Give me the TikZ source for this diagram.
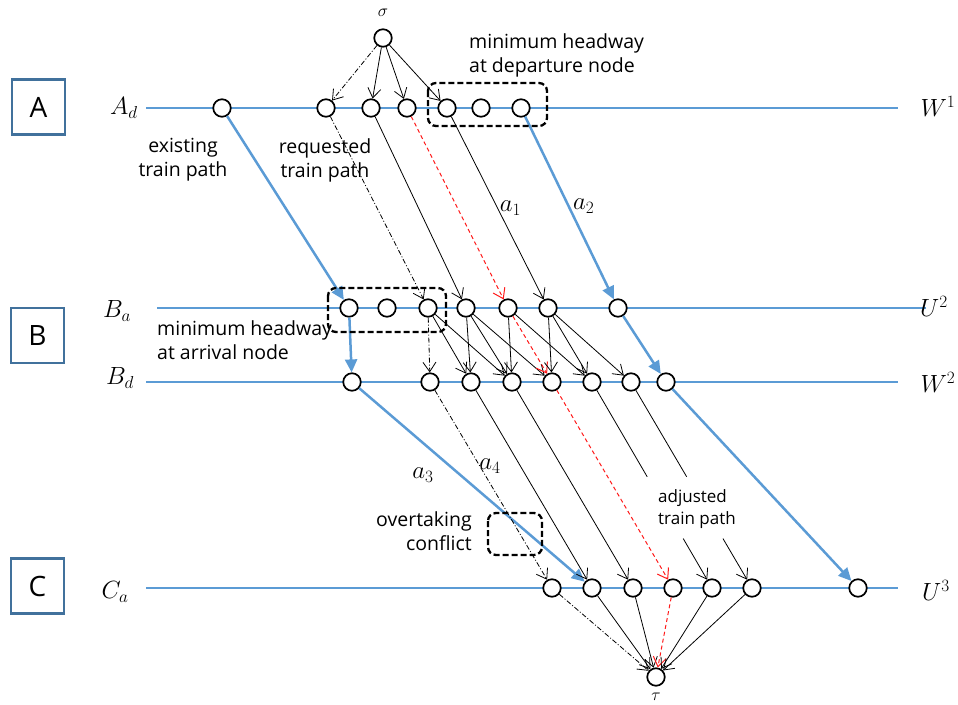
\documentclass[tikz,border=0pt]{standalone}
\usepackage{fontspec}
\newfontfamily\labfont{Open Sans}
\usetikzlibrary{arrows.meta,calc}
\definecolor{track}{HTML}{5B9BD5}
\definecolor{framecol}{HTML}{41719C}
\definecolor{pathred}{HTML}{FF1A1A}
\begin{document}
\begin{tikzpicture}[x=1pt,y=-1pt,
  ev/.style={circle,draw,line width=1.7pt,fill=white,minimum size=17.5pt,inner sep=0pt},
  trackline/.style={track,line width=1.2pt},
  arc/.style={line width=0.8pt,-{Straight Barb[length=9.5pt,width=13pt]}},
  reqarc/.style={arc,dash pattern=on 5pt off 2pt on 1pt off 2pt},
  adjarc/.style={line width=1pt,pathred,dash pattern=on 4pt off 3pt,-{Straight Barb[length=9.5pt,width=13pt]}},
  existarc/.style={track,line width=2.5pt,-{Triangle[length=13pt,width=12pt]}},
  hwbox/.style={line width=2.3pt,dash pattern=on 6pt off 3pt,rounded corners=8pt},
  stationbox/.style={draw=framecol,line width=2.2pt,minimum width=53pt,minimum height=55pt,
    font=\labfont\fontsize{28}{32}\selectfont},
  txt/.style={font=\labfont\fontsize{19.5}{24}\selectfont,inner sep=0pt},
  mlab/.style={font=\fontsize{26}{30}\selectfont,inner sep=0pt,text=black}
]
\useasboundingbox (0,0) rectangle (958,704);

% stations
\node[stationbox] (stA) at (38.5,107) {A};
\node[stationbox] (stB) at (37.5,335.5) {B};
\node[stationbox] (stC) at (37.5,586) {C};

% event lines
\draw[trackline] (146,108) -- (898,108);
\draw[trackline] (157,308) -- (926,308);
\draw[trackline] (146,382) -- (898,382);
\draw[trackline] (146,588) -- (898,588);

% line labels
\node[mlab] (lAd) at (124,108) {$A_d$};
\node[mlab] (lBa) at (117,311) {$B_a$};
\node[mlab] (lBd) at (120,378) {$B_d$};
\node[mlab] (lCa) at (115,592) {$C_a$};
\node[mlab] (lW1) at (938,106) {$W^1$};
\node[mlab] (lU2) at (934,306) {$U^2$};
\node[mlab] (lW2) at (938,382) {$W^2$};
\node[mlab] (lU3) at (936,590) {$U^3$};

% source and sink
\node[ev] (sig) at (383,38) {};
\node[font=\fontsize{17}{20}\selectfont] (lsig) at (383,13) {$\sigma$};
\node[ev] (tau) at (656,677) {};
\node[font=\fontsize{17}{20}\selectfont] (ltau) at (656,697) {$\tau$};

% departure events at A
\foreach \n/\x in {a0/222,a1/326,a2/371,a3/407,a4/447,a5/481,a6/521}
  \node[ev] (\n) at (\x,108) {};
% arrival events at B
\foreach \n/\x in {b0/349,b1/387,b2/428,b3/466,b4/508,b5/548,b6/618}
  \node[ev] (\n) at (\x,308) {};
% departure events at B
\foreach \n/\x in {d0/352,d1/430,d2/471,d3/512,d4/552,d5/592,d6/631,d7/666}
  \node[ev] (\n) at (\x,382) {};
% arrival events at C
\foreach \n/\x in {c0/552,c1/592,c2/633,c3/673,c4/712,c5/752,c6/858}
  \node[ev] (\n) at (\x,588) {};

% arcs leaving the source
\draw[reqarc] (sig) -- (a1);
\draw[arc] (sig) -- (a2);
\draw[arc] (sig) -- (a3);
\draw[arc] (sig) -- (a4);

% running arcs A -> B
\draw[existarc] (a0) -- (b0);
\draw[reqarc] (a1) -- (b2);
\draw[arc] (a2) -- (b3);
\draw[adjarc] (a3) -- (b4);
\draw[arc] (a4) -- node[mlab,pos=0.5,xshift=13pt] (la1) {$a_1$} (b5);
\draw[existarc] (a6) -- node[mlab,pos=0.49,xshift=15pt] (la2) {$a_2$} (b6);

% dwell arcs at B
\draw[existarc] (b0) -- (d0);
\draw[reqarc] (b2) -- (d1);
\draw[arc] (b2) -- (d2);
\draw[arc] (b2) -- (d3);
\draw[arc] (b3) -- (d2);
\draw[arc] (b3) -- (d3);
\draw[arc] (b3) -- (d4);
\draw[arc] (b4) -- (d3);
\draw[adjarc] (b4) -- (d4);
\draw[arc] (b4) -- (d5);
\draw[arc] (b5) -- (d4);
\draw[arc] (b5) -- (d5);
\draw[arc] (b5) -- (d6);
\draw[existarc] (b6) -- (d7);

% running arcs B -> C
\draw[existarc] (d0) -- (c1);
\draw[reqarc] (d1) -- (c0);
\draw[arc] (d2) -- (c1);
\draw[arc] (d3) -- (c2);
\draw[adjarc] (d4) -- (c3);
\coordinate (g1s) at ($(d5)!0.46!(c4)$);
\coordinate (g1e) at ($(d5)!0.76!(c4)$);
\coordinate (g2s) at ($(d6)!0.46!(c5)$);
\coordinate (g2e) at ($(d6)!0.76!(c5)$);
\draw[line width=0.8pt] (d5) -- (g1s);
\draw[arc] (g1e) -- (c4);
\draw[line width=0.8pt] (d6) -- (g2s);
\draw[arc] (g2e) -- (c5);
\draw[existarc] (d7) -- (c6);

% arcs into the sink
\draw[reqarc] (c0) -- (tau);
\draw[arc] (c1) -- (tau);
\draw[arc] (c2) -- (tau);
\draw[adjarc] (c3) -- (tau);
\draw[arc] (c4) -- (tau);
\draw[arc] (c5) -- (tau);

% labels a3, a4
\node[mlab] (la3) at (423,475) {$a_3$};
\node[mlab] (la4) at (490,466) {$a_4$};

% headway and conflict boxes
\draw[hwbox] (428,83) rectangle (547,126);
\draw[hwbox] (328,288) rectangle (446,332);
\draw[hwbox] (488,513) rectangle (542,555);

% text
\node[txt,align=center] (texist) at (183,160) {existing\\train path};
\node[txt,align=center] (treq) at (325,160) {requested\\train path};
\node[txt,align=left,anchor=west] (tdep) at (469,55) {minimum headway\\at departure node};
\node[txt,align=left,anchor=west] (tarr) at (157,340) {minimum headway\\at arrival node};
\node[txt,align=right,anchor=east] (tover) at (472,531) {overtaking\\conflict};
\node[txt,font=\labfont\fontsize{17}{22}\selectfont,align=left,anchor=west] (tadj) at (658,509) {adjusted\\train path};
\end{tikzpicture}
\end{document}
